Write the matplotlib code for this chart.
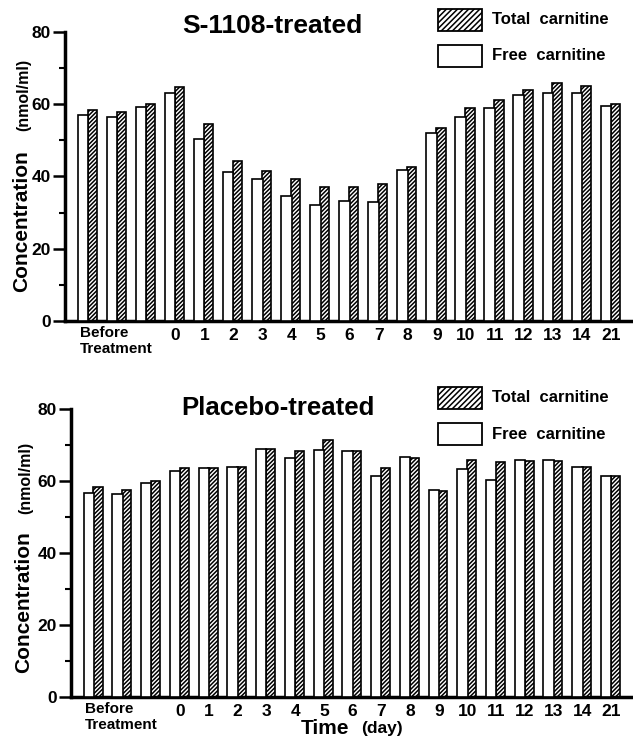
import matplotlib
matplotlib.use("Agg")
import matplotlib.pyplot as plt
from matplotlib.patches import Rectangle
from matplotlib import transforms
import numpy as np

plt.rcParams['font.family'] = ['Liberation Sans Narrow', 'Liberation Sans', 'DejaVu Sans']
plt.rcParams['hatch.linewidth'] = 1.1

# groups: 3 before-treatment samples, then days
day_labels = ['', '', ''] + ['0', '1', '2', '3', '4', '5', '6', '7', '8', '9', '10', '11', '12', '13', '14', '21']

s1108_free = [57.0, 56.5, 59.2, 63.0, 50.3, 41.2, 39.2, 34.7, 32.1, 33.3, 33.0, 41.8, 52.0, 56.5, 59.0, 62.6, 63.0, 63.0, 59.6]
s1108_total = [58.5, 57.8, 60.0, 64.8, 54.5, 44.3, 41.5, 39.4, 37.1, 37.2, 37.8, 42.6, 53.4, 59.0, 61.2, 64.0, 66.0, 65.0, 60.1]

placebo_free = [56.7, 56.4, 59.5, 62.9, 63.7, 64.0, 69.0, 66.5, 68.7, 68.3, 61.3, 66.6, 57.4, 63.3, 60.4, 65.7, 65.7, 64.0, 61.5]
placebo_total = [58.3, 57.5, 60.0, 63.7, 63.7, 63.8, 68.9, 68.3, 71.5, 68.2, 63.7, 66.5, 57.2, 65.7, 65.4, 65.6, 65.6, 63.9, 61.3]

W, H = 633, 746
fig = plt.figure(figsize=(W / 100, H / 100), dpi=100)
SANS = ['Liberation Sans', 'DejaVu Sans']


def px_box(x0, y0, x1, y1):
    # pixel box (top-left origin) -> figure fraction rect
    return [x0 / W, 1 - y1 / H, (x1 - x0) / W, (y1 - y0) / H]


def draw_panel(rect, free, total, title, title_xy, leg_y, ylab_xy):
    ax = fig.add_axes(rect)
    x = np.arange(len(free))
    ax.bar(x + 0.14, total, width=0.32, color='white', edgecolor='black',
           hatch='////////', linewidth=1.2, zorder=2)
    ax.bar(x - 0.18, free, width=0.36, color='white', edgecolor='black',
           linewidth=1.2, zorder=3)
    ax.set_xlim(-0.8, 18.72)
    ax.set_ylim(0, 80)
    for s in ['top', 'right']:
        ax.spines[s].set_visible(False)
    ax.spines['left'].set_linewidth(2.5)
    ax.spines['bottom'].set_linewidth(2.5)
    ax.set_yticks([0, 20, 40, 60, 80])
    ax.set_yticks([10, 30, 50, 70], minor=True)
    ax.tick_params(axis='y', which='major', length=9, width=1.8, labelsize=12.5, pad=1)
    ax.tick_params(axis='y', which='minor', length=4, width=1.5)
    ax.set_xticks(x)
    ax.set_xticklabels(day_labels, fontsize=12.5, fontweight='bold')
    ax.tick_params(axis='x', length=0, pad=5)
    for lab in ax.get_yticklabels():
        lab.set_fontweight('bold')
    tr = transforms.blended_transform_factory(ax.transData, ax.transAxes)
    ax.text(-0.3, -0.018, 'Before\nTreatment', transform=tr, ha='left', va='top',
            fontsize=11, fontweight='bold', linespacing=1.15)

    fig.text(title_xy[0] / W, 1 - title_xy[1] / H, title, ha='center', va='center',
             fontsize=title_xy[2], fontweight='bold', family=SANS)

    # legend drawn by hand
    y_h, y_f = leg_y
    fig.add_artist(Rectangle((438 / W, 1 - (y_h + 11) / H), 44 / W, 22 / H,
                             transform=fig.transFigure, facecolor='white',
                             edgecolor='black', hatch='//////', linewidth=1.3))
    fig.add_artist(Rectangle((438 / W, 1 - (y_f + 11) / H), 44 / W, 22 / H,
                             transform=fig.transFigure, facecolor='white',
                             edgecolor='black', linewidth=1.3))
    fig.text(492 / W, 1 - y_h / H, 'Total  carnitine', ha='left', va='center',
             fontsize=12, fontweight='bold', family=SANS)
    fig.text(492 / W, 1 - y_f / H, 'Free  carnitine', ha='left', va='center',
             fontsize=12, fontweight='bold', family=SANS)

    cx, cy, nx, ny = ylab_xy
    fig.text(cx / W, 1 - cy / H, 'Concentration', rotation=90, ha='center', va='center',
             fontsize=15, fontweight='bold', family=SANS)
    fig.text(nx / W, 1 - ny / H, '(nmol/ml)', rotation=90, ha='center', va='center',
             fontsize=11.5, fontweight='bold', family=SANS)
    return ax


draw_panel(px_box(65, 32, 632, 321), s1108_free, s1108_total,
           'S-1108-treated', (272, 26, 19), (20, 56), (22, 221, 24, 95))
draw_panel(px_box(71, 409, 632, 697), placebo_free, placebo_total,
           'Placebo-treated', (278, 408, 18.5), (398, 434), (24, 602, 26, 478))

fig.text(325 / W, 1 - 728 / H, 'Time', ha='center', va='center',
         fontsize=15, fontweight='bold', family=SANS)
fig.text(382 / W, 1 - 729 / H, '(day)', ha='center', va='center',
         fontsize=12.5, fontweight='bold', family=SANS)

fig.savefig('out.png', dpi=100)
